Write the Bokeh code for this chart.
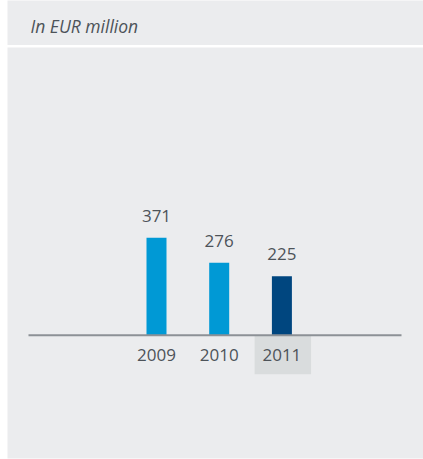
from bokeh.plotting import figure
from bokeh.layouts import column
from bokeh.models import Range1d, ColumnDataSource
from bokeh.core.properties import value
from bokeh.embed import file_html
from bokeh.resources import INLINE

# ---- data ----
years = ["2009", "2010", "2011"]
amounts = [371, 276, 225]
bar_colors = ["#0099d5", "#0099d5", "#00467f"]
header_text = "In EUR million"
highlight_year = "2011"

# ---- style / layout constants ----
PANEL = "#ebecee"
TEXT = "#4d5359"
FONT = "Open Sans"
W, H = 423, 459
LEFT = 7
HEADER_H = 45
GAP = 2
BOTTOM = 1
SLOT = 62.7          # px between bar centres
FIRST_X = 156        # px of first bar centre
BASE_Y = 334.7       # px of baseline
PX_PER_UNIT = 0.2625 # vertical scale

# ---- header ----
hdr = figure(width=W, height=HEADER_H, toolbar_location=None, output_backend="svg",
             x_range=Range1d(0, W - LEFT), y_range=Range1d(0, HEADER_H),
             min_border_left=LEFT, min_border_right=0, min_border_top=0, min_border_bottom=0)
hdr.axis.visible = False
hdr.grid.visible = False
hdr.outline_line_color = None
hdr.background_fill_color = PANEL
hdr.border_fill_color = "white"
hdr.text(x=[23.0], y=[HEADER_H - 25.5], text=[header_text], text_font=value(FONT),
         text_font_style="italic", text_font_size="17.5px", text_color=TEXT,
         text_baseline="middle", text_align="left")

# ---- body ----
body_h = H - HEADER_H
frame_top = HEADER_H + GAP
frame_bottom = H - BOTTOM
x_start = (LEFT - FIRST_X) / SLOT
x_end = (W - FIRST_X) / SLOT
y_end = (BASE_Y - frame_top) / PX_PER_UNIT
y_start = -(frame_bottom - BASE_Y) / PX_PER_UNIT

p = figure(width=W, height=body_h, toolbar_location=None, output_backend="svg",
           x_range=Range1d(x_start, x_end), y_range=Range1d(y_start, y_end),
           min_border_left=LEFT, min_border_right=0, min_border_top=GAP,
           min_border_bottom=BOTTOM)
p.axis.visible = False
p.grid.visible = False
p.outline_line_color = None
p.background_fill_color = PANEL
p.border_fill_color = "white"

idx = list(range(len(years)))
src = ColumnDataSource(dict(x=idx, top=amounts, year=years, color=bar_colors,
                            label=[str(a) for a in amounts]))

# highlight box behind current-year label
hi = years.index(highlight_year)
p.quad(left=[hi - 0.45 + 0.015], right=[hi + 0.45 + 0.015], top=[0],
       bottom=[-39 / PX_PER_UNIT], fill_color="#d9dcdd", line_color=None)

p.vbar(x="x", top="top", bottom=0, width=20 / SLOT, fill_color="color",
       line_color=None, source=src)

# baseline
p.segment(x0=[(28 - FIRST_X) / SLOT], x1=[(401 - FIRST_X) / SLOT], y0=[0], y1=[0],
          line_color="#8c9196", line_width=2)

p.text(x="x", y="top", text="label", source=src, y_offset=-22,
       text_font=value(FONT), text_font_size="17px", text_color=TEXT,
       text_align="center", text_baseline="middle")
p.text(x="x", y=0, text="year", source=src, y_offset=20,
       text_font=value(FONT), text_font_size="17px", text_color=TEXT,
       text_align="center", text_baseline="middle")

layout = column(hdr, p, spacing=0)
open("out.html", "w").write(file_html(layout, INLINE))
